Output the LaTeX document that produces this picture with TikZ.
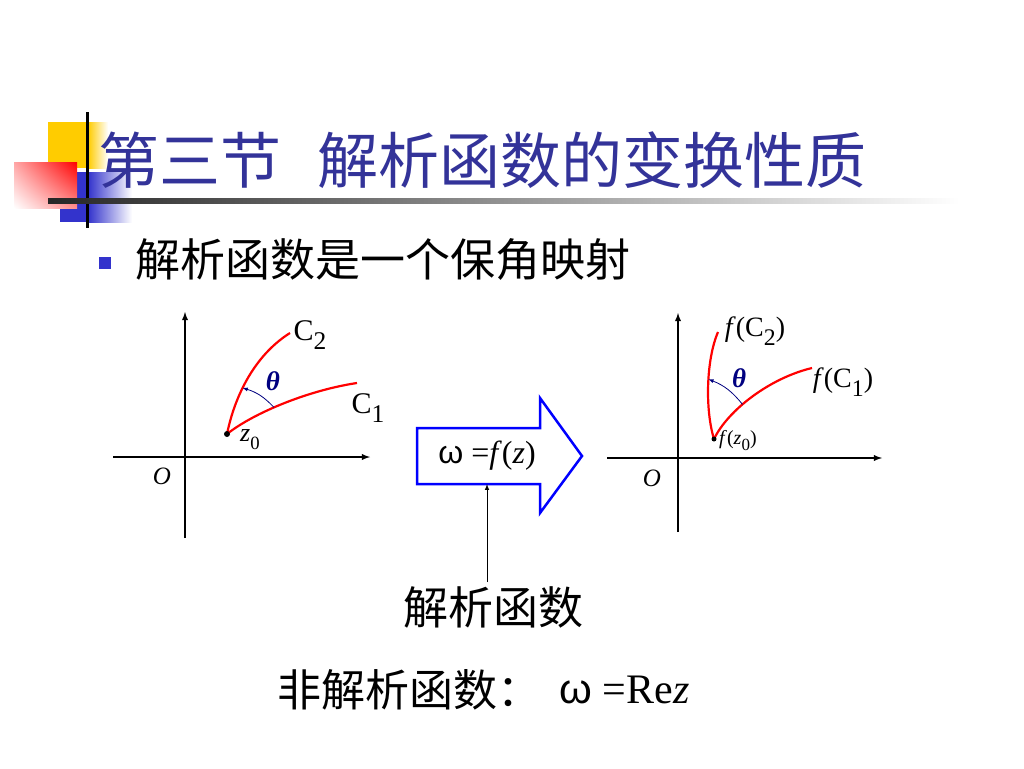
\documentclass[tikz,border=0pt]{standalone}
\usepackage{fontspec}
\setmainfont{Liberation Serif}
\newfontfamily\cjk{Noto Sans CJK SC}
\newfontfamily\arialf{Liberation Sans}
\usetikzlibrary{arrows,positioning,shadings}
\definecolor{titleblue}{RGB}{51,51,153}
\definecolor{bulletblue}{RGB}{51,51,204}
\definecolor{decoyellow}{RGB}{255,204,0}
\definecolor{decoblue}{RGB}{51,51,204}
\definecolor{thetablue}{RGB}{0,0,128}
\newcommand{\lsub}[1]{\raisebox{-0.3em}{\scalebox{0.85}{#1}}}
\newcommand{\fsz}[1]{\fontsize{#1}{#1}\selectfont}

\begin{document}
\begin{tikzpicture}[x=1pt,y=-1pt,
		ax/.style={line width=1.8pt,-latex},
		curve/.style={red,line width=2.2pt},
		ang/.style={thetablue,line width=0.8pt,-latex},
		lbl/.style={inner sep=0pt},
		dot/.style={circle,fill,inner sep=0pt,minimum size=#1},
		blockarrow/.style={blue,line width=2.5pt,line join=miter}]
	\useasboundingbox[fill=white] (0,0) rectangle (1024,768);
	\fill[decoyellow] (48,122) rectangle (88,168);
	\shade[left color=decoyellow,right color=white] (88,122) rectangle (108,168);
	\fill[decoblue] (60,172) rectangle (88,222);
	\shade[left color=decoblue,right color=white] (88,172) rectangle (132,222);
	\shade[upper right=red,upper left=red!35,lower left=white,lower right=red!45] (14,162) rectangle (77,208);
	\draw[line width=3pt] (87,112) -- (87,228);
	\shade[left color=black!85,right color=white] (48,198) rectangle (960,203);
	\node[lbl,anchor=west,text=titleblue,font=\cjk\fsz{61}] (title) at (98,160) {第三节\hspace{0.6em}解析函数的变换性质};
	\node[dot=0pt,rectangle,fill=bulletblue,minimum size=12pt] (bullet) at (105,263) {};
	\node[lbl,anchor=west,font=\cjk\fsz{45}] (item) at (135,260) {解析函数是一个保角映射};

	\coordinate (z0) at (227,434);
	\draw[ax] (113,457) -- (370,457);
	\draw[ax] (185,538) -- (185,312);
	\node[lbl,font=\itshape\fsz{25}] (o1) at (162,476) {O};
	\draw[curve] (z0) .. controls (235,395) and (255,355) .. (290,333) coordinate[pos=0.4] (a2) coordinate (c2end);
	\draw[curve] (z0) .. controls (255,412) and (310,390) .. (357,383) coordinate[pos=0.42] (a1) coordinate (c1end);
	\draw[ang] (a1) to[bend right=15] (a2);
	\node[dot=6pt] (z0dot) at (z0) {};
	\node[lbl,font=\fsz{30}] (c2) at (310,335) {C\lsub{2}};
	\node[lbl,font=\fsz{30}] (c1) at (368,408) {C\lsub{1}};
	\node[lbl,text=thetablue,font=\bfseries\itshape\fsz{27}] (th1) at (273,381) {θ};
	\node[lbl,anchor=west,font=\fsz{26}] (z0lbl) at (240,440) {\textit{z}\lsub{\fsz{22}0}};

	\coordinate (fz0) at (714,439);
	\draw[ax] (607,458) -- (882,458);
	\draw[ax] (678,532) -- (678,313);
	\node[lbl,font=\itshape\fsz{25}] (o2) at (652,478) {O};
	\draw[curve] (fz0) .. controls (705,410) and (706,360) .. (718,332) coordinate[pos=0.55] (b2);
	\draw[curve] (fz0) .. controls (728,410) and (770,378) .. (812,368) coordinate[pos=0.4] (b1);
	\draw[ang] (b1) to[bend right=15] (b2);
	\node[dot=5pt] (fz0dot) at (fz0) {};
	\node[lbl,font=\fsz{28}] (fc2) at (755,331) {\textit{f}(C\lsub{2})};
	\node[lbl,font=\fsz{28}] (fc1) at (843,382) {\textit{f}(C\lsub{1})};
	\node[lbl,text=thetablue,font=\bfseries\itshape\fsz{27}] (th2) at (739,378) {θ};
	\node[lbl,anchor=west,font=\fsz{20}] (fz0lbl) at (719,441) {\textit{f}(\textit{z}\lsub{0})};

	\draw[blockarrow] (417,428) -- (540,428) -- (540,398) -- (582,456) -- (540,513) -- (540,484) -- (417,484) -- cycle;
	\coordinate (boxbot) at (487,484);
	\node[lbl,font=\fsz{32}] (map) at (487,456) {{\arialf ω} =\textit{f}(\textit{z})};
	\node[lbl,font=\cjk\fsz{45}] (fn) at (493,607) {解析函数};
	\draw[line width=1pt,-latex] (fn.north -| boxbot) ++(0,-4) -- (boxbot);
	\node[lbl,anchor=west,font=\cjk\fsz{44}] (nonan) at (277,690) {非解析函数：};
	\node[lbl,anchor=west,font=\fsz{42},right=18pt of nonan] (re) {{\arialf ω} =Re\textit{z}};
\end{tikzpicture}
\end{document}
